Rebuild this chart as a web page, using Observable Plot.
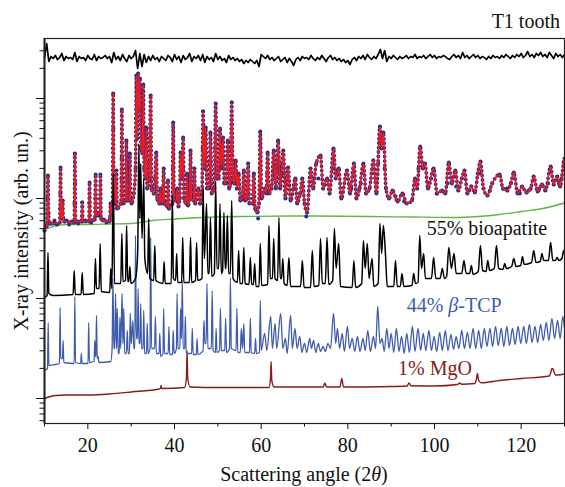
<!DOCTYPE html>
<html><head><meta charset="utf-8">
<script src="https://cdn.jsdelivr.net/npm/d3@7"></script>
<script src="https://cdn.jsdelivr.net/npm/@observablehq/plot@0.6"></script>
<style>body{margin:0;background:#fff}</style>
</head><body><div id="chart"></div>
<script>
// All intensities are log10 values (arb. units, patterns stacked with offsets as in the figure)
const xTicks = [20, 40, 60, 80, 100, 120];
const xMinorTicks = [10, 30, 50, 70, 90, 110, 130];
const yTicks = [1, 10, 100, 1000];
const yMinorTicks = [0.6,0.7,0.8,0.9,2,3,4,5,6,7,8,9,20,30,40,50,60,70,80,90,200,300,400,500,600,700,800,900,2000,3000];

// Difference curve (obs - calc), sampled every 0.5 deg from 10 to 130
const diffStart = 10, diffStep = 0.5;
const difference = [3.41,3.55,3.37,3.42,3.40,3.43,3.39,3.41,3.45,3.38,3.42,3.40,3.41,3.39,3.46,3.37,3.42,3.40,3.41,3.38,3.43,3.40,3.39,3.44,3.38,3.42,3.40,3.41,3.43,3.40,3.42,3.36,3.46,3.39,3.42,3.38,3.44,3.40,3.37,3.43,3.40,3.42,3.48,3.30,3.45,3.32,3.44,3.36,3.42,3.38,3.43,3.39,3.41,3.37,3.42,3.40,3.38,3.43,3.41,3.37,3.44,3.39,3.42,3.36,3.43,3.39,3.41,3.45,3.37,3.42,3.40,3.43,3.38,3.44,3.36,3.42,3.39,3.41,3.37,3.45,3.39,3.42,3.38,3.40,3.36,3.43,3.39,3.41,3.38,3.40,3.37,3.39,3.35,3.38,3.36,3.39,3.37,3.35,3.38,3.32,3.44,3.42,3.40,3.43,3.39,3.41,3.38,3.40,3.42,3.37,3.39,3.41,3.36,3.40,3.37,3.33,3.39,3.41,3.38,3.42,3.40,3.41,3.39,3.43,3.40,3.38,3.41,3.39,3.43,3.40,3.37,3.41,3.43,3.39,3.41,3.38,3.40,3.37,3.39,3.36,3.38,3.34,3.39,3.41,3.38,3.42,3.40,3.43,3.39,3.44,3.41,3.39,3.42,3.40,3.44,3.49,3.40,3.48,3.37,3.42,3.40,3.43,3.41,3.39,3.42,3.40,3.41,3.43,3.40,3.42,3.41,3.44,3.40,3.42,3.41,3.43,3.40,3.42,3.44,3.41,3.43,3.40,3.42,3.41,3.43,3.42,3.40,3.39,3.42,3.44,3.41,3.43,3.40,3.46,3.41,3.43,3.40,3.42,3.44,3.41,3.43,3.40,3.42,3.41,3.39,3.42,3.40,3.43,3.41,3.42,3.40,3.43,3.41,3.44,3.42,3.40,3.43,3.41,3.44,3.42,3.45,3.41,3.43,3.47,3.42,3.44,3.41,3.45,3.43,3.46,3.42,3.44,3.41,3.46,3.43,3.40,3.45,3.42,3.44,3.41,3.44];

// Calculated (Rietveld) profile vertices: [2theta, log10 I]
const calculated = [[10,1.68],[10.55,1.73],[10.68,1.85],[10.8,2.23],[10.93,1.85],[11.1,1.75],[12,1.75],[13.5,1.76],[13.6,1.9],[13.7,2.31],[13.82,1.9],[13.95,1.8],[14.1,1.85],[14.2,1.98],[14.32,1.8],[14.6,1.77],[16.85,1.76],[16.93,1.95],[17.0,2.45],[17.1,1.95],[17.2,1.77],[18.55,1.77],[18.7,1.96],[18.85,1.77],[20.25,1.77],[20.4,2.16],[20.55,1.78],[21.6,1.79],[21.8,2.24],[21.95,1.85],[22.3,1.83],[22.5,1.85],[22.75,1.85],[22.9,2.24],[23.05,1.8],[23.5,1.78],[25.0,1.77],[25.1,1.8],[25.25,1.95],[25.4,1.85],[25.7,1.9],[25.85,3.05],[26.0,2.0],[26.3,1.95],[26.6,2.28],[26.75,1.9],[27.6,1.95],[27.75,2.2],[27.85,2.89],[28.0,2.2],[28.15,1.95],[28.7,1.98],[28.9,2.58],[29.05,1.98],[29.55,1.98],[29.7,2.45],[29.85,2.0],[30.1,1.95],[30.6,2.05],[31.0,2.3],[31.2,3.23],[31.4,2.6],[31.6,3.25],[31.8,2.9],[32.0,3.2],[32.3,2.5],[32.6,2.45],[32.8,3.14],[33.0,2.3],[33.3,2.2],[33.5,2.71],[33.7,2.1],[34.2,2.2],[34.5,3.03],[34.7,2.1],[35.2,2.05],[35.5,2.2],[35.8,2.46],[36.0,2.0],[36.5,1.95],[36.8,2.1],[37.0,1.95],[37.3,2.0],[37.5,2.3],[37.7,1.95],[38.3,1.92],[38.5,2.18],[38.7,1.9],[39.5,1.95],[39.7,2.76],[39.9,1.98],[40.4,1.98],[40.6,2.1],[40.9,1.92],[41.2,2.0],[41.4,2.46],[41.7,2.2],[42.0,2.61],[42.2,2.0],[42.7,1.95],[42.9,2.25],[43.1,1.93],[43.5,2.0],[43.7,2.48],[43.9,2.0],[44.4,1.98],[44.6,2.3],[44.8,1.95],[45.5,2.1],[45.9,1.95],[46.35,2.05],[46.6,2.87],[46.9,2.3],[47.2,2.71],[47.5,2.1],[48.0,2.1],[48.3,2.66],[48.6,2.05],[49.2,2.1],[49.5,2.95],[49.8,2.2],[50.2,2.2],[50.5,2.7],[50.8,2.3],[51.2,2.61],[51.5,2.15],[51.9,2.15],[52.3,2.58],[52.6,2.1],[52.9,2.15],[53.2,2.96],[53.5,2.2],[53.8,2.15],[54.1,2.38],[54.4,2.1],[54.8,2.25],[55.2,1.98],[55.7,2.0],[56.0,2.28],[56.3,1.98],[56.7,2.0],[57.0,2.35],[57.3,1.95],[58.0,1.95],[58.3,2.25],[58.6,1.9],[59.1,1.86],[59.5,1.95],[59.8,2.67],[60.1,2.0],[60.9,2.1],[61.2,2.05],[61.5,2.46],[61.8,2.05],[62.4,2.1],[62.9,2.48],[63.4,2.1],[63.9,2.58],[64.4,2.1],[65.1,2.48],[65.6,2.0],[66.2,2.31],[66.8,1.98],[67.9,2.2],[68.3,1.95],[69.0,2.05],[69.5,2.2],[70.0,1.95],[70.6,1.86],[71.4,2.3],[72.0,2.1],[72.7,2.35],[73.7,2.43],[74.3,2.1],[75.2,2.2],[75.8,2.05],[76.7,2.5],[77.2,2.2],[77.9,2.3],[78.5,2.0],[79.8,2.28],[80.5,2.05],[81.4,2.35],[82.0,2.0],[82.7,2.1],[83.6,2.35],[84.2,2.05],[85.0,2.1],[85.9,2.38],[86.6,2.05],[87.4,2.72],[87.8,2.5],[88.2,2.66],[88.8,2.1],[89.5,2.0],[90.3,2.08],[91.5,1.97],[92.6,2.05],[93.6,1.95],[94.8,1.98],[95.5,2.2],[96.0,2.1],[96.7,2.52],[97.3,2.3],[97.8,2.35],[98.5,2.1],[99.8,2.3],[100.6,2.05],[101.8,2.08],[102.5,2.05],[103.3,2.36],[104.0,2.15],[104.8,2.28],[105.5,2.08],[106.3,2.2],[106.9,2.28],[107.6,2.05],[108.5,2.12],[109.3,2.06],[110.0,2.25],[110.6,2.37],[111.3,2.1],[112.2,2.03],[113.3,2.15],[115.0,2.24],[115.8,2.1],[116.8,2.08],[117.6,2.15],[118.3,2.26],[119.2,2.05],[120.2,2.12],[121.2,2.06],[122.2,2.1],[122.9,2.22],[123.8,2.07],[124.8,2.14],[125.6,2.08],[126.8,2.32],[127.5,2.14],[128.3,2.22],[129.0,2.12],[129.8,2.36],[130,2.4]];

// Observed profile: follows the fit closely in the figure (same read vertices),
// plus individual observed points that sit off the fitted line.
const observed = calculated;
const observedScatter = [[11.4,1.75],[12.3,1.78],[12.9,1.74],[15.1,1.78],[15.7,1.74],[16.3,1.77],[17.8,1.75],[19.4,1.78],[20.8,1.76],[23.7,1.79],[24.3,1.76],[10.75,2.0],[13.65,2.05],[17.05,2.15],[20.35,1.95],[21.75,2.0],[22.85,2.0],[25.8,2.5],[25.9,2.7],[27.8,2.4],[28.85,2.3],[31.1,2.8],[31.7,3.0],[32.7,2.7],[33.4,2.45],[34.4,2.6],[39.65,2.3],[41.9,2.3],[46.5,2.5],[47.1,2.45],[48.2,2.35],[49.4,2.5],[50.4,2.4],[53.1,2.5],[59.7,2.3],[59.3,1.8],[61.4,2.25],[63.8,2.3],[65.0,2.25],[67.5,2.1],[70.4,1.82],[73.2,2.2],[76.5,2.3],[80.8,2.1],[83.0,2.15],[87.0,2.35],[88.5,2.3],[91.0,2.02],[93.0,1.97],[96.3,2.3],[99.2,2.2],[100.5,2.05],[103.0,2.15],[105.0,2.12],[108.0,2.08],[110.3,2.25],[112.8,2.08],[116.7,2.1],[119.7,2.05],[121.7,2.08],[124.2,2.1],[126.2,2.15],[128.7,2.15],[129.3,2.2]];

// Background
const background = [[10,1.69],[12,1.72],[15,1.74],[20,1.74],[25,1.745],[30,1.75],[35,1.78],[40,1.795],[46,1.81],[55,1.82],[70,1.825],[85,1.82],[95,1.815],[104,1.81],[110,1.82],[115,1.84],[120,1.87],[125,1.90],[130,1.955]];

// 55% bioapatite phase pattern
const bioapatite = [[10,1.01],[10.6,1.03],[10.8,1.46],[11.0,1.05],[12,1.03],[16.6,1.04],[16.85,1.28],[17.1,1.04],[18.45,1.04],[18.7,1.26],[18.95,1.04],[21.5,1.05],[21.75,1.4],[22.0,1.1],[22.6,1.1],[22.85,1.55],[23.1,1.07],[25.05,1.06],[25.3,1.3],[25.55,1.1],[25.88,2.25],[26.15,1.15],[27.6,1.15],[27.85,1.65],[28.1,1.17],[28.7,1.18],[28.95,1.73],[29.2,1.17],[29.45,1.17],[29.7,1.32],[29.95,1.15],[31.0,1.2],[31.5,1.45],[31.77,2.55],[32.0,1.8],[32.2,2.35],[32.5,1.6],[32.9,2.2],[33.15,1.4],[33.8,1.25],[34.05,1.8],[34.3,1.2],[35.2,1.18],[35.45,1.53],[35.7,1.18],[37.35,1.15],[37.6,1.37],[37.85,1.15],[39.25,1.15],[39.5,2.03],[39.75,1.2],[40.25,1.18],[40.5,1.45],[40.75,1.16],[41.65,1.16],[41.9,1.61],[42.15,1.16],[43.45,1.16],[43.7,1.61],[43.95,1.16],[44.85,1.18],[45.1,1.56],[45.35,1.18],[46.35,1.2],[46.6,2.11],[46.9,1.4],[47.4,1.95],[47.7,1.25],[48.0,1.25],[48.3,1.81],[48.6,1.22],[49.2,1.25],[49.5,2.16],[49.8,1.3],[50.2,1.3],[50.5,1.95],[50.8,1.25],[51.1,1.28],[51.4,1.86],[51.7,1.3],[51.9,1.3],[52.2,1.83],[52.5,1.25],[52.9,1.25],[53.2,1.98],[53.5,1.2],[54.5,1.16],[54.8,1.48],[55.1,1.15],[55.7,1.15],[56.0,1.51],[56.3,1.15],[57.2,1.14],[57.5,1.41],[57.8,1.14],[58.2,1.14],[58.5,1.35],[58.8,1.12],[59.5,1.12],[59.8,1.55],[60.1,1.13],[61.5,1.14],[61.8,1.73],[62.1,1.2],[62.6,1.2],[62.9,1.6],[63.2,1.2],[63.8,1.18],[64.1,1.81],[64.4,1.2],[64.7,1.2],[65.0,1.4],[65.3,1.15],[66.0,1.13],[66.4,1.41],[66.8,1.12],[69.1,1.12],[69.5,1.38],[69.9,1.11],[71.4,1.11],[71.8,1.48],[72.2,1.12],[73.3,1.13],[73.7,1.6],[74.1,1.15],[74.8,1.15],[75.2,1.61],[75.6,1.14],[76.5,1.18],[76.9,1.7],[77.3,1.3],[77.9,1.55],[78.3,1.12],[81.0,1.11],[81.4,1.38],[81.8,1.11],[83.2,1.15],[83.6,1.58],[84.0,1.3],[84.5,1.55],[84.9,1.2],[85.6,1.4],[86.0,1.12],[87.0,1.15],[87.4,1.75],[87.8,1.45],[88.2,1.73],[88.7,1.43],[89.1,1.12],[90.6,1.12],[91.0,1.38],[91.4,1.12],[92.1,1.12],[92.5,1.25],[92.9,1.12],[94.8,1.13],[95.2,1.25],[95.6,1.15],[96.2,1.16],[96.6,1.63],[97.0,1.3],[97.5,1.45],[97.9,1.2],[99.3,1.2],[99.8,1.41],[100.3,1.2],[101.3,1.2],[101.8,1.3],[102.3,1.2],[102.8,1.22],[103.3,1.51],[103.9,1.3],[104.5,1.45],[105.0,1.25],[106.3,1.25],[106.8,1.38],[107.3,1.25],[108.1,1.25],[108.5,1.33],[108.9,1.24],[110.1,1.27],[110.6,1.53],[111.1,1.28],[111.9,1.27],[112.3,1.38],[112.7,1.28],[113.8,1.3],[114.3,1.53],[114.8,1.3],[115.8,1.29],[116.2,1.35],[116.6,1.3],[117.8,1.32],[118.3,1.4],[118.8,1.32],[119.9,1.33],[120.3,1.42],[120.7,1.34],[122.4,1.36],[122.9,1.48],[123.4,1.36],[124.4,1.37],[124.8,1.45],[125.2,1.38],[126.3,1.38],[126.8,1.56],[127.3,1.38],[127.9,1.38],[128.3,1.41],[128.7,1.38],[129.4,1.4],[129.8,1.48],[130,1.45]];

// 44% beta-TCP phase pattern
const tcp = [[10,0.28],[10.7,0.3],[10.85,0.76],[11.0,0.33],[12.5,0.34],[13.45,0.35],[13.6,0.91],[13.75,0.4],[14.15,0.4],[14.3,0.58],[14.45,0.36],[16.85,0.35],[17.0,1.02],[17.15,0.36],[18.35,0.35],[18.5,0.45],[18.65,0.35],[20.05,0.35],[20.2,0.76],[20.35,0.36],[21.45,0.37],[21.6,0.58],[21.75,0.42],[21.85,0.42],[22.0,0.83],[22.15,0.42],[22.3,0.4],[22.4,0.42],[22.55,0.36],[25.3,0.37],[25.6,0.5],[25.8,1.2],[26.0,0.5],[26.2,0.5],[26.4,1.05],[26.6,0.5],[26.8,0.9],[27.0,0.45],[27.25,0.45],[27.4,0.81],[27.6,0.5],[27.9,1.05],[28.1,0.55],[28.3,0.9],[28.5,0.45],[28.9,0.45],[29.1,0.68],[29.3,0.45],[29.6,0.45],[29.8,0.85],[30.0,0.55],[30.1,0.6],[30.4,0.78],[30.6,0.5],[30.85,0.5],[31.0,1.63],[31.2,0.6],[31.45,0.6],[31.6,1.1],[31.8,0.55],[32.05,0.55],[32.2,0.95],[32.4,0.5],[32.75,0.5],[32.9,0.88],[33.1,0.45],[33.55,0.45],[33.7,0.75],[33.9,0.45],[34.35,0.5],[34.5,1.61],[34.7,0.5],[35.4,0.5],[35.6,0.82],[35.8,0.45],[36.45,0.45],[36.6,0.65],[36.8,0.42],[37.35,0.45],[37.5,0.9],[37.7,0.45],[38.55,0.45],[38.7,0.72],[38.9,0.44],[39.55,0.44],[39.7,0.68],[39.9,0.45],[40.45,0.5],[40.6,1.05],[40.8,0.5],[41.25,0.5],[41.4,0.9],[41.6,0.6],[41.8,1.18],[42.0,0.5],[42.35,0.5],[42.5,0.82],[42.7,0.45],[43.95,0.45],[44.1,0.7],[44.3,0.44],[45.05,0.44],[45.2,0.6],[45.4,0.44],[46.6,0.48],[46.8,0.78],[47.0,0.55],[47.3,0.55],[47.5,1.15],[47.7,0.5],[48.5,0.5],[48.7,1.08],[48.9,0.48],[49.45,0.46],[49.6,0.7],[49.8,0.46],[50.4,0.48],[50.6,0.9],[50.8,0.48],[51.6,0.48],[51.8,0.8],[52.0,0.46],[52.7,0.5],[52.9,1.21],[53.1,0.5],[54.2,0.48],[54.4,0.9],[54.6,0.46],[55.2,0.46],[55.4,0.7],[55.7,0.5],[56.0,0.75],[56.2,0.46],[57.3,0.46],[57.5,0.8],[57.7,0.46],[58.5,0.45],[58.7,0.6],[58.9,0.45],[59.6,0.46],[59.8,0.98],[60.0,0.48],[60.8,0.65],[61.3,0.48],[62.2,0.82],[62.6,0.5],[63.2,0.75],[63.6,0.5],[64.5,0.85],[65.0,0.5],[65.6,0.6],[66.0,0.45],[66.8,0.83],[67.2,0.5],[67.8,0.7],[68.3,0.5],[68.9,0.62],[69.4,0.46],[70.0,0.55],[70.5,0.46],[71.2,0.6],[71.6,0.5],[72.1,0.58],[72.6,0.46],[73.2,0.55],[73.7,0.47],[74.3,0.52],[74.8,0.47],[75.4,0.55],[76.0,0.5],[76.7,0.85],[77.2,0.55],[77.6,0.7],[78.1,0.5],[78.7,0.65],[79.2,0.47],[79.9,0.72],[80.4,0.5],[81.0,0.6],[81.6,0.47],[82.2,0.62],[82.8,0.47],[83.5,0.6],[84.0,0.48],[84.6,0.68],[85.2,0.47],[85.9,0.62],[86.4,0.5],[86.9,0.92],[87.4,0.55],[87.9,0.6],[88.4,0.47],[89.0,0.7],[89.5,0.5],[90.0,0.65],[90.6,0.46],[91.2,0.7],[91.8,0.47],[92.4,0.62],[93.0,0.45],[93.6,0.65],[94.2,0.46],[94.9,0.72],[95.5,0.47],[96.2,0.7],[96.8,0.48],[97.4,0.65],[98.0,0.48],[98.7,0.68],[99.3,0.48],[99.9,0.62],[100.5,0.47],[101.2,0.66],[101.8,0.48],[102.5,0.68],[103.1,0.48],[103.8,0.64],[104.4,0.49],[105.0,0.62],[105.6,0.5],[106.3,0.68],[106.9,0.5],[107.6,0.66],[108.2,0.5],[108.9,0.7],[109.5,0.5],[110.2,0.68],[110.8,0.5],[111.5,0.7],[112.1,0.52],[112.8,0.7],[113.4,0.52],[114.1,0.72],[114.7,0.53],[115.4,0.7],[116.0,0.52],[116.7,0.72],[117.3,0.53],[118.0,0.7],[118.6,0.54],[119.3,0.72],[119.9,0.55],[120.6,0.72],[121.2,0.55],[121.9,0.74],[122.5,0.56],[123.2,0.72],[123.8,0.56],[124.5,0.74],[125.1,0.58],[125.8,0.76],[126.4,0.58],[127.1,0.8],[127.7,0.6],[128.4,0.78],[129.0,0.6],[129.6,0.82],[130,0.7]];

// 1% MgO phase pattern
const mgo = [[10,0.0],[11,0.015],[12.5,0.03],[15,0.035],[20,0.035],[25,0.045],[30,0.065],[36.4,0.095],[36.75,0.1],[36.9,0.13],[37.05,0.1],[37.3,0.1],[42.3,0.11],[42.75,0.2],[42.9,0.48],[43.05,0.2],[43.6,0.115],[50,0.11],[61.8,0.11],[62.15,0.2],[62.3,0.37],[62.45,0.18],[63,0.115],[74.3,0.115],[74.7,0.155],[75.1,0.115],[78.2,0.115],[78.6,0.2],[79.0,0.115],[90,0.12],[93.7,0.125],[94.1,0.155],[94.6,0.128],[100,0.125],[105.3,0.14],[105.8,0.155],[106.3,0.143],[109.3,0.15],[109.7,0.2],[109.9,0.25],[110.2,0.18],[110.8,0.157],[115,0.18],[120,0.2],[126.5,0.225],[126.9,0.27],[127.1,0.3],[127.4,0.29],[127.9,0.235],[129,0.237],[130,0.245]];

const diffPts = difference.map((v, i) => [diffStart + i * diffStep, v]);
const X = d => d[0], Y = d => Math.pow(10, d[1]);
const font = "'Liberation Serif', 'Times New Roman', serif";
const navy = "#2b2e83";

const chart = Plot.plot({
  width: 565, height: 487,
  marginLeft: 44, marginRight: 1, marginTop: 38, marginBottom: 64,
  style: {fontFamily: font, fontSize: "20px", background: "white", color: "#111"},
  x: {domain: [10, 130], label: null},
  y: {type: "log", domain: [Math.pow(10, -0.25), Math.pow(10, 3.6)], label: null},
  marks: [
    Plot.line(background, {x: X, y: Y, stroke: "#5cb946", strokeWidth: 1.3, curve: "monotone-x"}),
    // observed data drawn as dots along the measured profile
    Plot.line(observed, {x: X, y: Y, stroke: navy, strokeWidth: 3.8, strokeDasharray: "0 4.4", strokeLinecap: "round", curve: "monotone-x"}),
    Plot.dot(observed, {x: X, y: Y, r: 2, fill: navy, stroke: "none"}),
    Plot.dot(observedScatter, {x: X, y: Y, r: 2, fill: navy, stroke: "none"}),
    Plot.line(calculated, {x: X, y: Y, stroke: "#ec1c24", strokeWidth: 1.6, curve: "monotone-x"}),
    Plot.line(mgo, {x: X, y: Y, stroke: "#8b1a1a", strokeWidth: 1.4, curve: "monotone-x"}),
    Plot.line(tcp, {x: X, y: Y, stroke: "#3f5bae", strokeWidth: 1.3, curve: "monotone-x"}),
    Plot.line(bioapatite, {x: X, y: Y, stroke: "#000", strokeWidth: 1.5, curve: "monotone-x"}),
    Plot.line(diffPts, {x: X, y: Y, stroke: "#000", strokeWidth: 1.7}),
    Plot.frame({stroke: "#222", strokeWidth: 1.2}),
    Plot.ruleX([10], {stroke: "#222", strokeWidth: 2}),
    Plot.axisX({ticks: xTicks, tickSize: 6, tickPadding: 8, fontSize: 20, label: null}),
    Plot.axisX({ticks: xMinorTicks, tickSize: 3.5, tickFormat: () => "", label: null}),
    Plot.axisY({ticks: yTicks, tickSize: 8, tickFormat: () => "", label: null}),
    Plot.axisY({ticks: yMinorTicks, tickSize: 4.5, tickFormat: () => "", label: null})
  ]
});
document.getElementById("chart").appendChild(chart);

// Annotations (real SVG text)
const svg = d3.select(chart);
const sx = chart.scale("x"), sy = chart.scale("y");
function label(x, y, color, parts, opts = {}) {
  const t = svg.append("text")
    .attr("x", x).attr("y", y)
    .attr("fill", color)
    .attr("font-family", font)
    .attr("font-size", opts.size || 20)
    .attr("text-anchor", opts.anchor || "start");
  if (opts.rotate) t.attr("transform", `rotate(${opts.rotate},${x},${y})`);
  for (const [s, it] of parts) t.append("tspan").attr("font-style", it ? "italic" : null).text(s);
  return t;
}
label(560, 28, "#111", [["T1 tooth", false]], {anchor: "end"});
label(sx.apply(98.3), sy.apply(Math.pow(10, 1.69)) + 6, "#111", [["55% bioapatite", false]]);
label(sx.apply(93.7), sy.apply(Math.pow(10, 0.925)) + 6, "#3f5bae", [["44% ", false], ["β", true], ["-TCP", false]]);
label(sx.apply(91.7), sy.apply(Math.pow(10, 0.294)) + 6, "#8b1a1a", [["1% MgO", false]]);
label(304, 481, "#111", [["Scattering angle (2", false], ["θ", true], [")", false]], {anchor: "middle"});
label(28, 231, "#111", [["X-ray intensity (arb. un.)", false]], {anchor: "middle", rotate: -90});
</script>
</body></html>
